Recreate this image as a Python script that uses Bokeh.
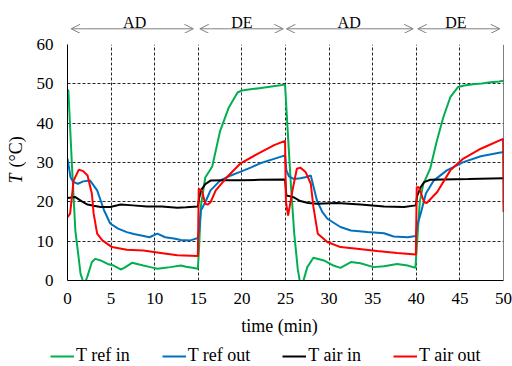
from bokeh.plotting import figure
from bokeh.models import (Range1d, Legend, LegendItem, Arrow, OpenHead, Label,
                          Span, FixedTicker)
from bokeh.layouts import row, column
from bokeh.embed import file_html
from bokeh.resources import INLINE
import numpy as np
import math

# ---------------- data ----------------
t_ref_in = [0, 0.1, 0.5, 0.9, 1.5, 1.9, 2.25, 2.8, 3.2, 3.8, 4.6, 5.3, 6.1, 6.5, 7.4, 8.7, 9.5,
            10.3, 11.0, 11.8, 13.0, 13.6, 14.5, 14.95, 15.1, 15.3, 15.8, 16.6, 17.5, 18.5,
            19.5, 20, 21, 22, 23, 24, 24.95, 25.2, 25.6, 26.0, 26.4, 26.7, 27.0, 27.5, 28.2,
            29.4, 30.5, 31.3, 32.5, 33.6, 35.1, 36.3, 37.8, 39.0, 39.9, 40.1, 40.4, 40.8,
            41.3, 41.6, 42.3, 43.1, 43.9, 44.8, 45.5, 46.5, 47.5, 48.5, 49.5, 50]
v_ref_in = [48.5, 48.3, 29.7, 12.7, 1.7, -1.0, 0.8, 4.7, 5.5, 5.1, 4.2, 3.8, 2.8, 3.2, 4.5, 3.8, 3.4,
            3.0, 3.2, 3.4, 3.8, 3.5, 3.2, 3.0, 9.0, 19.0, 26.2, 29.0, 38.0, 44.0,
            47.8, 48.3, 48.6, 48.9, 49.2, 49.5, 49.8, 40.0, 25.0, 12.0, 3.0, -1.0, -0.5, 3.4, 5.8,
            5.1, 3.8, 3.2, 4.7, 4.4, 3.4, 3.6, 4.2, 3.8, 3.2, 10.0, 20.0, 24.5,
            27.0, 28.5, 35.0, 41.5, 46.6, 49.2, 49.6, 49.9, 50.1, 50.4, 50.6, 50.8]

t_ref_out = [0, 0.35, 0.7, 1.2, 1.8, 2.6, 3.4, 4.2, 4.9, 5.8, 6.8, 7.6, 8.6, 9.4, 10.3, 11.2,
             12.2, 13.0, 14.1, 14.95, 15.1, 15.3, 15.8, 16.4, 17.5, 18.5, 19.8, 21.0, 22.1,
             23.5, 24.95, 25.1, 25.4, 26.0, 26.7, 27.4, 27.9, 28.6, 29.2, 29.8, 31.3, 32.5,
             34.4, 36.3, 37.4, 39.0, 39.95, 40.1, 40.5, 41.1, 42.0, 43.5, 45.4, 47.4, 49.8, 50]
v_ref_out = [31.0, 26.2, 25.0, 24.6, 25.2, 25.4, 22.9, 17.8, 14.5, 13.2, 12.3, 11.8, 11.4, 11.0, 11.9, 11.0,
             10.7, 10.3, 10.2, 10.8, 13.0, 17.8, 19.9, 22.9, 25.4, 26.5, 27.6, 28.7, 29.8,
             30.8, 31.8, 28.0, 26.5, 25.8, 26.0, 26.3, 26.7, 20.4, 17.5, 15.7, 13.6, 12.7,
             12.3, 12.0, 11.2, 11.0, 11.3, 14.0, 17.0, 22.1, 25.4, 28.0, 30.1, 31.6, 32.6, 32.7]

t_air_in = [0, 0.9, 1.6, 2.3, 3.0, 3.8, 4.9, 6.1, 7.5, 9.1, 10.8, 12.6, 13.6, 14.95, 15.1,
            15.3, 15.8, 16.4, 18, 20, 22, 24.95, 25.1, 25.9, 26.7, 27.6, 28.6, 30.9, 33.6,
            36.3, 38.6, 39.95, 40.1, 40.5, 40.9, 41.6, 43, 46, 50]
v_air_in = [21.0, 21.2, 20.2, 19.3, 19.0, 18.7, 18.7, 19.3, 19.1, 18.8, 18.8, 18.5, 18.6, 18.8, 21.0,
            22.9, 24.5, 25.4, 25.5, 25.5, 25.6, 25.7, 21.6, 21.2, 20.2, 19.7, 19.5, 19.7, 19.3,
            18.8, 18.7, 19.1, 21.5, 23.7, 25.0, 25.6, 25.7, 25.8, 26.0]

t_air_out = [0, 0.3, 0.7, 1.3, 1.8, 2.3, 2.8, 3.0, 3.4, 4.0, 5.1, 6.8, 8.7, 10.7, 12.6, 14.95,
             15.05, 15.4, 15.8, 16.1, 16.4, 17.0, 18.3, 19.8, 21.8, 23.7, 24.95, 25.05, 25.3,
             25.8, 26.3, 26.7, 27.3, 27.9, 28.2, 28.7, 29.8, 31.3, 33.2, 35.5, 37.8, 39.95,
             40.05, 40.3, 40.9, 41.2, 42.4, 43.9, 45.4, 47.4, 49.95, 50.0]
v_air_out = [16.1, 17.0, 25.4, 28.2, 27.8, 26.7, 22.0, 17.0, 11.9, 10.2, 8.5, 7.8, 7.6, 7.0, 6.4, 6.2,
             23.3, 22.9, 19.5, 19.3, 19.9, 22.9, 26.3, 29.7, 32.2, 34.4, 35.5, 20.0, 16.5,
             22.9, 28.4, 28.7, 27.6, 24.6, 18.7, 11.9, 9.8, 8.5, 8.1, 7.5, 7.0, 6.6,
             23.7, 23.7, 19.9, 19.7, 22.5, 28.0, 31.0, 33.5, 36.0, 17.4]

series_names = ["T ref in", "T ref out", "T air in", "T air out"]
series_colors = ["#00B050", "#0070C0", "#000000", "#FF0000"]

x_ticks = [0, 5, 10, 15, 20, 25, 30, 35, 40, 45, 50]
y_ticks = [0, 10, 20, 30, 40, 50, 60]
x_title = "time (min)"

phase_names = ["AD", "DE", "AD", "DE"]
phase_start = [0.42, 15.17, 25.11, 40.17]
phase_end = [14.43, 24.74, 39.64, 49.58]
phase_label_x = [7.7, 20.0, 32.3, 44.55]

SERIF = "Liberation Serif"
LEFT_W = 26
COL_W = 486
TOP_H = 33
MAIN_H = 283
BOT_H = 50
FULL_W = LEFT_W + COL_W

x_range = Range1d(0, 50)


def strip(width, height, xr, yr, **kw):
    f = figure(width=width, height=height, output_backend="svg", toolbar_location=None,
               x_range=xr, y_range=yr, x_axis_location=None, y_axis_location=None,
               min_border_top=0, min_border_bottom=0, **kw)
    f.outline_line_color = None
    f.xgrid.visible = False
    f.ygrid.visible = False
    f.background_fill_color = None
    f.border_fill_color = None
    return f


# ---------------- main figure ----------------
p = figure(width=COL_W, height=MAIN_H, output_backend="svg", toolbar_location=None,
           x_range=x_range, y_range=Range1d(0, 60),
           min_border_left=41, min_border_right=9, min_border_top=11, min_border_bottom=36)
p.outline_line_color = None

for ax in (p.xaxis[0], p.yaxis[0]):
    ax.major_tick_line_color = None
    ax.minor_tick_line_color = None
    ax.major_tick_out = 0
    ax.major_tick_in = 0
    ax.minor_tick_out = 0
    ax.minor_tick_in = 0
    ax.axis_line_color = "black"
    ax.axis_line_width = 1
    ax.major_label_text_font = SERIF
    ax.major_label_text_font_size = "17px"
    ax.major_label_text_color = "black"

p.xaxis[0].ticker = FixedTicker(ticks=x_ticks)
p.yaxis[0].ticker = FixedTicker(ticks=y_ticks)
p.xaxis[0].major_label_standoff = 12
p.yaxis[0].major_label_standoff = 14

for g in (p.xgrid[0], p.ygrid[0]):
    g.grid_line_color = "black"
    g.grid_line_dash = "3 2"
    g.grid_line_width = 1
    g.grid_line_alpha = 0.85
p.xgrid[0].ticker = FixedTicker(ticks=x_ticks)
p.ygrid[0].ticker = FixedTicker(ticks=y_ticks)

p.add_layout(Span(location=50, dimension="height", line_color="black", line_width=1))

ts = [t_ref_in, t_ref_out, t_air_in, t_air_out]
vs = [v_ref_in, v_ref_out, v_air_in, v_air_out]
for t, v, c in zip(ts, vs, series_colors):
    p.line(t, v, line_color=c, line_width=2)

# ---------------- top strip: phase arrows ----------------
top = strip(COL_W, TOP_H, x_range, Range1d(0, TOP_H), min_border_left=41, min_border_right=9)
for name, s, e, lx in zip(phase_names, phase_start, phase_end, phase_label_x):
    top.add_layout(Arrow(x_start=s, y_start=4.7, x_end=e, y_end=4.7,
                         line_color="#808080", line_width=1,
                         start=OpenHead(size=9, line_color="#808080", line_width=1),
                         end=OpenHead(size=9, line_color="#808080", line_width=1)))
    top.add_layout(Label(x=lx, y=11.5, text=name, text_align="center",
                         text_baseline="alphabetic", text_font=SERIF,
                         text_font_size="16px", text_color="black"))

# ---------------- left strip: y axis title ----------------
left = strip(LEFT_W, TOP_H + MAIN_H, Range1d(0, 1), Range1d(0, TOP_H + MAIN_H),
             min_border_left=0, min_border_right=0)
left.add_layout(Label(x=0.58, y=133, text="T", angle=math.pi / 2, text_align="left",
                      text_baseline="middle", text_font=SERIF, text_font_style="italic",
                      text_font_size="18px", text_color="black"))
left.add_layout(Label(x=0.58, y=149, text="(°C)", angle=math.pi / 2, text_align="left",
                      text_baseline="middle", text_font=SERIF,
                      text_font_size="18px", text_color="black"))

# ---------------- bottom strip: x title + legend ----------------
bot = strip(FULL_W, BOT_H, Range1d(0, FULL_W), Range1d(0, BOT_H),
            min_border_left=0, min_border_right=0)
bot.add_layout(Label(x=279, y=41, text=x_title, text_align="center",
                     text_baseline="middle", text_font=SERIF,
                     text_font_size="18px", text_color="black"))
legend_renderers = [bot.line(np.array([np.nan]), np.array([np.nan]), line_color=c, line_width=2)
                    for c in series_colors]
legend = Legend(items=[LegendItem(label=n, renderers=[r]) for n, r in zip(series_names, legend_renderers)],
                orientation="horizontal", location=(50, 0),
                label_text_font=SERIF, label_text_font_size="18px", label_text_color="black",
                glyph_width=24, glyph_height=16, label_standoff=2, spacing=32,
                padding=0, margin=0, border_line_color=None, background_fill_alpha=0)
bot.add_layout(legend)

layout = column(row(left, column(top, p, spacing=0), spacing=0), bot, spacing=0)
open("out.html", "w").write(file_html(layout, INLINE))
